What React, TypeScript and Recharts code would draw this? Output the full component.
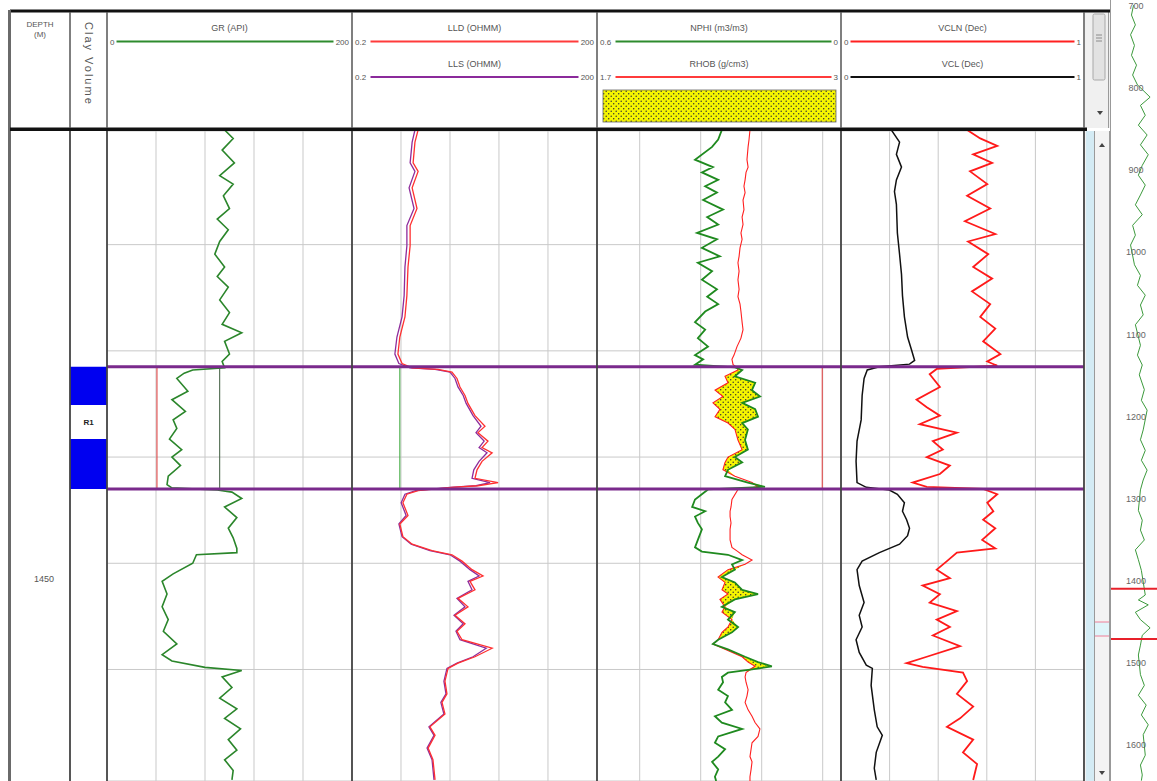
import React from 'react';
import {
  ComposedChart,
  Line,
  Area,
  XAxis,
  YAxis,
  CartesianGrid,
  ReferenceLine,
  ReferenceArea,
} from 'recharts';

// depth window of the main tracks (m)
const TOP_DEPTH = 1409.3;
const BASE_DEPTH = 1470.5;
const depthGrid = [1420, 1430, 1440, 1450, 1460];
const depthLabels = [1450];

// overview strip on the right
const OVERVIEW_TOP = 692.7;
const OVERVIEW_BASE = 1643.4;
const overviewLabels = [700, 800, 900, 1000, 1100, 1200, 1300, 1400, 1500, 1600];

const zones = [{ name: 'R1', top: 1431.5, base: 1443.0, labelTop: 1435.1, labelBase: 1438.3 }];

// grid ticks per track
const grGrid = [40, 80, 120, 160];
const lldGrid = [0.796, 3.17, 12.6, 50.2];
const nphiGrid = [0.495, 0.345, 0.195, 0.045];
const vclGrid = [0.2, 0.4, 0.6, 0.8];

// cutoffs drawn inside the zone
const grCutoffs = [40.8, 92];
const lldCutoffs = [0.77];
const rhobCutoffs = [2.9];

// [depth, GR API]
const grCurve = [
  [1409.2, 96], [1410.0, 103], [1411.1, 94], [1412.3, 104], [1413.5, 92], [1414.3, 103],
  [1415.4, 95], [1416.6, 100], [1417.6, 90], [1418.6, 99], [1419.7, 92], [1420.9, 88],
  [1422.1, 96], [1423.0, 90], [1424.0, 99], [1425.2, 92], [1426.4, 100], [1427.5, 94],
  [1428.3, 110], [1429.1, 96], [1430.3, 100], [1431.0, 94], [1431.6, 96], [1431.8, 70],
  [1432.1, 63], [1432.6, 57], [1433.8, 66], [1434.6, 53], [1435.7, 64], [1436.5, 54],
  [1437.3, 57], [1438.3, 51], [1439.3, 61], [1440.0, 53], [1440.8, 60], [1441.8, 50],
  [1442.6, 49], [1442.9, 53], [1443.1, 90], [1443.3, 102], [1443.9, 110], [1444.7, 96],
  [1445.7, 106], [1446.7, 99], [1447.6, 103], [1448.6, 106], [1449.0, 106], [1449.2, 73],
  [1450.0, 70], [1451.0, 54], [1451.7, 45], [1452.9, 49], [1454.1, 45], [1455.3, 50],
  [1456.4, 46], [1457.6, 57], [1458.6, 45], [1459.2, 53], [1459.8, 80], [1460.1, 110],
  [1460.7, 94], [1461.7, 102], [1462.7, 92], [1463.7, 106], [1464.6, 96], [1465.6, 109],
  [1466.6, 99], [1467.6, 106], [1468.5, 96], [1469.5, 103], [1470.4, 102],
];

// [depth, LLD, LLS] ohm.m
const resCurve = [
  [1409.2, 1.29, 1.18], [1410.35, 1.18, 1.09], [1412.3, 1.12, 1.03], [1413.1, 1.29, 1.18],
  [1414.65, 1.09, 1.0], [1416.6, 1.25, 1.15], [1418.2, 1.03, 0.94], [1420.1, 1.03, 0.94],
  [1422.1, 0.97, 0.89], [1424.8, 0.94, 0.87], [1426.8, 0.89, 0.82], [1428.7, 0.77, 0.71],
  [1430.3, 0.73, 0.67], [1431.2, 0.82, 0.75], [1431.6, 1.09, 1.03], [1431.75, 2.26, 2.08],
  [1432.0, 3.35, 3.17], [1432.6, 3.86, 3.65], [1433.4, 4.2, 3.97], [1434.2, 4.84, 4.6],
  [1434.95, 5.26, 5.0], [1436.1, 6.41, 6.07], [1437.1, 8.5, 7.6], [1437.7, 6.98, 6.6],
  [1438.5, 9.25, 8.3], [1439.1, 7.82, 7.2], [1439.6, 10.4, 9.0], [1440.4, 7.82, 7.2],
  [1441.2, 6.79, 6.2], [1442.0, 6.41, 5.9], [1442.4, 12.3, 9.8], [1442.7, 6.98, 6.6],
  [1442.85, 3.35, 3.17], [1443.15, 1.29, 1.2], [1443.5, 0.94, 0.89], [1444.3, 0.84, 0.8],
  [1445.5, 0.97, 0.92], [1446.3, 0.77, 0.75], [1447.5, 0.84, 0.82], [1448.2, 1.09, 1.06],
  [1448.8, 1.91, 1.8], [1449.2, 3.35, 3.17], [1449.8, 4.45, 4.2], [1450.6, 5.9, 5.57],
  [1451.2, 8.04, 7.2], [1451.7, 5.57, 5.26], [1452.5, 6.41, 5.9], [1453.3, 3.97, 3.86],
  [1454.1, 5.26, 4.84], [1454.9, 3.65, 3.55], [1455.7, 4.84, 4.6], [1456.4, 3.86, 3.75],
  [1457.2, 4.45, 4.2], [1458.0, 10.4, 8.8], [1458.8, 6.41, 6.07], [1459.4, 3.97, 3.86],
  [1459.9, 3.0, 2.91], [1461.1, 2.75, 2.67], [1462.3, 2.91, 2.83], [1463.1, 2.53, 2.45],
  [1464.2, 2.75, 2.67], [1465.4, 1.8, 1.75], [1466.2, 2.08, 2.02], [1467.4, 1.71, 1.66],
  [1468.5, 1.96, 1.91], [1470.4, 2.08, 2.02],
];

// [depth, NPHI m3/m3, RHOB g/cm3]
const ndCurve = [
  [1409.2, 0.293, 2.515], [1410.1, 0.302, 2.51], [1410.8, 0.317, 2.505], [1412.0, 0.359, 2.499],
  [1412.7, 0.315, 2.505], [1413.2, 0.342, 2.494], [1413.9, 0.302, 2.489], [1414.5, 0.334, 2.483],
  [1415.1, 0.305, 2.489], [1415.8, 0.339, 2.478], [1416.7, 0.29, 2.483], [1417.4, 0.329, 2.473],
  [1418.1, 0.302, 2.478], [1418.9, 0.354, 2.467], [1419.5, 0.305, 2.473], [1420.3, 0.342, 2.462],
  [1421.1, 0.298, 2.457], [1421.7, 0.352, 2.451], [1422.5, 0.317, 2.457], [1423.3, 0.342, 2.451],
  [1424.2, 0.305, 2.457], [1424.9, 0.329, 2.451], [1425.6, 0.302, 2.462], [1426.3, 0.334, 2.467],
  [1427.3, 0.359, 2.473], [1428.0, 0.334, 2.478], [1428.8, 0.352, 2.467], [1429.6, 0.327, 2.446],
  [1430.4, 0.359, 2.43], [1430.8, 0.339, 2.419], [1431.3, 0.359, 2.425], [1431.55, 0.261, 2.446],
  [1431.8, 0.243, 2.451], [1432.4, 0.261, 2.382], [1433.0, 0.211, 2.398], [1433.7, 0.219, 2.329],
  [1434.3, 0.199, 2.371], [1434.9, 0.243, 2.318], [1435.5, 0.211, 2.355], [1436.2, 0.204, 2.329],
  [1436.8, 0.243, 2.398], [1437.4, 0.229, 2.435], [1438.4, 0.236, 2.451], [1439.3, 0.229, 2.473],
  [1440.0, 0.261, 2.398], [1440.5, 0.243, 2.382], [1441.2, 0.278, 2.371], [1441.8, 0.285, 2.435],
  [1442.4, 0.229, 2.526], [1442.8, 0.187, 2.558], [1443.05, 0.327, 2.451], [1444.0, 0.359, 2.419],
  [1444.7, 0.366, 2.414], [1445.1, 0.334, 2.409], [1445.6, 0.359, 2.409], [1446.2, 0.352, 2.414],
  [1446.8, 0.342, 2.409], [1447.8, 0.352, 2.409], [1448.5, 0.359, 2.419], [1448.9, 0.342, 2.451],
  [1449.2, 0.278, 2.473], [1449.7, 0.243, 2.526], [1450.1, 0.268, 2.489], [1450.6, 0.261, 2.398],
  [1451.3, 0.293, 2.345], [1451.8, 0.261, 2.382], [1452.5, 0.243, 2.366], [1452.9, 0.204, 2.398],
  [1453.4, 0.261, 2.355], [1454.1, 0.293, 2.382], [1454.6, 0.261, 2.366], [1455.3, 0.278, 2.419],
  [1456.0, 0.253, 2.398], [1456.5, 0.268, 2.366], [1457.2, 0.302, 2.345], [1457.6, 0.315, 2.318],
  [1458.1, 0.278, 2.382], [1458.8, 0.236, 2.473], [1459.3, 0.204, 2.505], [1459.7, 0.17, 2.542],
  [1460.0, 0.219, 2.515], [1460.3, 0.278, 2.494], [1460.7, 0.293, 2.489], [1461.2, 0.29, 2.494],
  [1461.9, 0.302, 2.505], [1462.5, 0.278, 2.499], [1463.1, 0.285, 2.489], [1463.8, 0.268, 2.505],
  [1464.4, 0.31, 2.526], [1465.0, 0.293, 2.542], [1465.6, 0.243, 2.568], [1466.3, 0.302, 2.558],
  [1466.9, 0.31, 2.526], [1467.5, 0.285, 2.521], [1468.2, 0.302, 2.515], [1468.7, 0.317, 2.526],
  [1469.4, 0.302, 2.521], [1470.1, 0.31, 2.515], [1470.5, 0.307, 2.515],
];

// [depth, VCL]
const vclCurve = [
  [1409.2, 0.207], [1410.35, 0.241], [1411.5, 0.228], [1412.7, 0.249], [1413.9, 0.228],
  [1415.0, 0.22], [1416.2, 0.228], [1418.9, 0.232], [1420.9, 0.241], [1422.8, 0.249],
  [1424.8, 0.253], [1426.8, 0.261], [1428.7, 0.274], [1429.9, 0.29], [1430.9, 0.303],
  [1431.25, 0.282], [1431.5, 0.158], [1431.8, 0.108], [1432.6, 0.095], [1434.2, 0.087],
  [1436.5, 0.083], [1438.5, 0.066], [1440.4, 0.062], [1442.4, 0.066], [1442.85, 0.104],
  [1443.1, 0.199], [1443.5, 0.232], [1444.3, 0.261], [1445.1, 0.253], [1445.9, 0.27],
  [1446.7, 0.282], [1447.4, 0.274], [1448.2, 0.241], [1449.0, 0.158], [1449.8, 0.087],
  [1450.6, 0.066], [1452.1, 0.075], [1453.7, 0.095], [1454.9, 0.075], [1456.0, 0.087],
  [1457.2, 0.062], [1458.4, 0.075], [1459.6, 0.104], [1459.9, 0.129], [1461.5, 0.124],
  [1463.8, 0.137], [1465.4, 0.149], [1466.2, 0.17], [1467.8, 0.145], [1469.3, 0.137],
  [1470.4, 0.145],
];

// [depth, VCLN]
const vclnCurve = [
  [1409.2, 0.519], [1410.0, 0.573], [1410.7, 0.643], [1411.5, 0.544], [1412.3, 0.622],
  [1413.1, 0.531], [1414.3, 0.602], [1415.4, 0.519], [1416.6, 0.614], [1417.8, 0.51],
  [1419.0, 0.635], [1419.7, 0.523], [1420.9, 0.606], [1422.1, 0.544], [1423.2, 0.622],
  [1424.4, 0.539], [1425.6, 0.614], [1426.8, 0.573], [1427.9, 0.635], [1429.1, 0.585],
  [1430.3, 0.656], [1431.0, 0.602], [1431.4, 0.643], [1431.7, 0.394], [1432.2, 0.365],
  [1433.4, 0.407], [1434.6, 0.311], [1435.3, 0.353], [1436.1, 0.407], [1436.9, 0.324],
  [1437.7, 0.477], [1438.5, 0.378], [1439.3, 0.419], [1440.0, 0.353], [1440.8, 0.448],
  [1441.6, 0.407], [1442.4, 0.295], [1442.8, 0.353], [1443.0, 0.585], [1443.5, 0.643],
  [1444.3, 0.602], [1445.1, 0.627], [1445.9, 0.585], [1446.7, 0.635], [1447.8, 0.581],
  [1448.6, 0.635], [1449.0, 0.477], [1449.8, 0.436], [1450.6, 0.394], [1451.4, 0.448],
  [1452.1, 0.336], [1452.9, 0.407], [1453.7, 0.365], [1454.5, 0.477], [1455.3, 0.394],
  [1456.0, 0.448], [1456.8, 0.378], [1457.8, 0.49], [1458.8, 0.353], [1459.4, 0.27],
  [1459.75, 0.336], [1460.3, 0.502], [1461.1, 0.519], [1462.3, 0.477], [1463.5, 0.544],
  [1464.6, 0.49], [1465.4, 0.436], [1466.6, 0.544], [1467.8, 0.502], [1468.9, 0.56],
  [1470.4, 0.544],
];

// [depth, GR] of the overview strip
const overviewCurve = [
  [699, 98], [711, 89], [723, 106], [735, 85], [748, 102], [760, 89], [772, 111], [784, 94],
  [796, 115], [811, 170], [821, 128], [833, 149], [845, 119], [857, 157], [869, 128], [881, 162],
  [894, 136], [906, 119], [918, 149], [930, 128], [942, 106], [954, 136], [967, 94], [979, 106],
  [991, 85], [1015, 102], [1028, 128], [1040, 115], [1052, 149], [1064, 128], [1076, 140],
  [1088, 106], [1113, 128], [1125, 115], [1137, 136], [1149, 123], [1167, 145], [1180, 132],
  [1192, 157], [1216, 140], [1228, 128], [1241, 149], [1253, 132], [1265, 157], [1277, 140],
  [1289, 128], [1314, 119], [1326, 136], [1338, 128], [1350, 145], [1362, 106], [1374, 119],
  [1387, 132], [1417, 149], [1423, 119], [1429, 162], [1438, 106], [1447, 128], [1457, 170],
  [1466, 136], [1478, 128], [1490, 119], [1514, 128], [1527, 145], [1539, 119], [1551, 153],
  [1563, 132], [1575, 162], [1587, 140], [1612, 149], [1624, 128], [1636, 136], [1643, 132],
];

const NPHI_LEFT = 0.6;
const NPHI_RIGHT = 0;
const RHOB_LEFT = 1.7;
const RHOB_RIGHT = 3;

const grRows = grCurve.map(([depth, gr]) => ({ depth, gr }));
const resRows = resCurve.map(([depth, lld, lls]) => ({ depth, lld, lls }));
const vclRows = vclCurve.map(([depth, vcl]) => ({ depth, vcl }));
const vclnRows = vclnCurve.map(([depth, vcln]) => ({ depth, vcln }));
const overviewRows = overviewCurve.map(([depth, gr]) => ({ depth, gr }));
// density-neutron crossover: shaded where RHOB plots left of NPHI
const ndRows = ndCurve.map(([depth, nphi, rhob]) => {
  const nf = (nphi - NPHI_LEFT) / (NPHI_RIGHT - NPHI_LEFT);
  const rf = (rhob - RHOB_LEFT) / (RHOB_RIGHT - RHOB_LEFT);
  return { depth, nphi, rhob, sand: [rf, Math.max(rf, nf)] };
});
const depthExtent = [{ depth: TOP_DEPTH, x: 0 }, { depth: BASE_DEPTH, x: 1 }];

const FONT = "'Liberation Sans', Arial, sans-serif";
const M = { top: 0, right: 0, bottom: 0, left: 0 };
const BODY_TOP = 131;
const BODY_H = 650;
const GRID = '#c9c9c9';
const ZONE = '#7a2a8c';

const depthAxis = (ticks: number[]) => (
  <YAxis
    type="number"
    dataKey="depth"
    domain={[TOP_DEPTH, BASE_DEPTH]}
    ticks={ticks}
    interval={0}
    allowDataOverflow
    hide
  />
);

const zoneLines = () =>
  zones
    .flatMap((z) => [z.top, z.base])
    .map((d, i) => <ReferenceLine key={'zone' + i} y={d} stroke={ZONE} strokeWidth={3} />);

const cutoffLines = (values: number[], colors: string[], axisId?: string) =>
  zones.flatMap((z) =>
    values.map((v, i) => (
      <ReferenceLine
        key={z.name + 'cut' + i}
        xAxisId={axisId ?? 0}
        segment={[{ x: v, y: z.top }, { x: v, y: z.base }]}
        stroke={colors[i]}
        strokeWidth={1}
      />
    ))
  );

const renderDepthTick = (p: any) => (
  <text x={34} y={p.y + 19} textAnchor="middle" fontSize={9} fill="#555" fontFamily={FONT}>
    {p.payload.value}
  </text>
);

const renderOverviewTick = (p: any) => (
  <text x={25} y={p.y + 3} textAnchor="middle" fontSize={9} fill="#666" fontFamily={FONT}>
    {p.payload.value}
  </text>
);

const HeaderCurve = ({ x0, x1, row, title, lo, hi, color }: any) => {
  const cx = (x0 + x1) / 2;
  const ty = row === 0 ? 31 : 67;
  const ly = row === 0 ? 41.5 : 77;
  return (
    <g>
      <text x={cx} y={ty} textAnchor="middle" fontSize={9} fill="#555">{title}</text>
      <line
        x1={x0 + 5 + lo.length * 4.5}
        x2={x1 - 5 - hi.length * 4.5}
        y1={ly}
        y2={ly}
        stroke={color}
        strokeWidth={2}
      />
      <text x={x0 + 3} y={ly + 3} fontSize={8} fill="#555">{lo}</text>
      <text x={x1 - 3} y={ly + 3} fontSize={8} fill="#555" textAnchor="end">{hi}</text>
    </g>
  );
};

const Frame = () => {
  const dividers = [70, 107, 352, 597, 841, 1084];
  return (
    <svg
      width={1157}
      height={781}
      style={{ position: 'absolute', left: 0, top: 0, pointerEvents: 'none' }}
      fontFamily={FONT}
    >
      <defs>
        <pattern id="hdrSand" width={5} height={5} patternUnits="userSpaceOnUse">
          <rect width={5} height={5} fill="#f5f500" />
          <circle cx={1.2} cy={1.2} r={0.75} fill="#333" />
          <circle cx={3.7} cy={3.7} r={0.75} fill="#333" />
        </pattern>
      </defs>

      {/* header scrollbar */}
      <rect x={1085} y={12} width={25} height={116} fill="#f0f0f0" />
      <line x1={1108.5} x2={1108.5} y1={12} y2={128} stroke="#9a9a9a" />
      <rect x={1093} y={14} width={12} height={66} rx={1.5} fill="#e2e2e2" stroke="#a8a8a8" />
      {[35, 38, 41].map((y) => (
        <line key={y} x1={1096} x2={1102} y1={y} y2={y} stroke="#777" strokeWidth={0.8} />
      ))}
      <polygon points="1097,111 1103,111 1100,115" fill="#444" />

      {/* body scrollbar */}
      <rect x={1085} y={131} width={25} height={650} fill="#f3f3f3" />
      <rect x={1086} y={131} width={8} height={650} fill="#d4ebf4" />
      <line x1={1094.5} x2={1094.5} y1={131} y2={781} stroke="#9a9a9a" />
      <line x1={1109.5} x2={1109.5} y1={131} y2={781} stroke="#9a9a9a" />
      <polygon points="1099,147 1105,147 1102,143" fill="#444" />
      <polygon points="1099,771 1105,771 1102,775" fill="#444" />
      <rect x={1095} y={622} width={14} height={14} fill="#dff5fa" />
      <line x1={1095} x2={1109} y1={622} y2={622} stroke="#f06080" strokeWidth={0.8} />
      <line x1={1095} x2={1109} y1={636} y2={636} stroke="#f06080" strokeWidth={0.8} />

      {/* frame */}
      <rect x={10} y={9.5} width={1100} height={3} fill="#111" />
      <rect x={8} y={10} width={3} height={771} fill="#6a6a6a" />
      <rect x={10} y={127.5} width={1077} height={3.5} fill="#111" />
      {dividers.map((x) => (
        <line key={'h' + x} x1={x} x2={x} y1={12} y2={128} stroke="#555" strokeWidth={1.5} />
      ))}
      {dividers.map((x) => (
        <line key={'b' + x} x1={x} x2={x} y1={131} y2={781} stroke="#444" strokeWidth={1.8} />
      ))}

      {/* header texts */}
      <text x={40} y={27} textAnchor="middle" fontSize={8} fill="#555">DEPTH</text>
      <text x={40} y={37} textAnchor="middle" fontSize={8} fill="#555">(M)</text>
      <text x={85} y={22} fontSize={11} fill="#555" letterSpacing={2} transform="rotate(90 85 22)">
        Clay Volume
      </text>

      <HeaderCurve x0={107} x1={352} row={0} title="GR (API)" lo="0" hi="200" color="#2e8b2e" />
      <HeaderCurve x0={352} x1={597} row={0} title="LLD (OHMM)" lo="0.2" hi="200" color="#ff3b3b" />
      <HeaderCurve x0={352} x1={597} row={1} title="LLS (OHMM)" lo="0.2" hi="200" color="#8b2a9b" />
      <HeaderCurve x0={597} x1={841} row={0} title="NPHI (m3/m3)" lo="0.6" hi="0" color="#2e8b2e" />
      <HeaderCurve x0={597} x1={841} row={1} title="RHOB (g/cm3)" lo="1.7" hi="3" color="#ff3b3b" />
      <HeaderCurve x0={841} x1={1084} row={0} title="VCLN (Dec)" lo="0" hi="1" color="#ff2020" />
      <HeaderCurve x0={841} x1={1084} row={1} title="VCL (Dec)" lo="0" hi="1" color="#111" />
      <rect x={603} y={90} width={233} height={32} fill="url(#hdrSand)" stroke="#666" strokeWidth={0.8} />

      <line x1={1110.5} x2={1110.5} y1={0} y2={781} stroke="#999" />
    </svg>
  );
};

export default function App() {
  return (
    <div
      style={{
        position: 'absolute',
        left: 0,
        top: 0,
        width: 1157,
        height: 781,
        background: '#fff',
        overflow: 'hidden',
        fontFamily: FONT,
      }}
    >
      {/* depth */}
      <div style={{ position: 'absolute', left: 10, top: BODY_TOP }}>
        <ComposedChart width={60} height={BODY_H} layout="vertical" margin={M} data={depthExtent}>
          <XAxis type="number" dataKey="x" domain={[0, 1]} hide allowDataOverflow />
          <YAxis
            type="number"
            dataKey="depth"
            domain={[TOP_DEPTH, BASE_DEPTH]}
            ticks={depthLabels}
            interval={0}
            allowDataOverflow
            mirror
            axisLine={false}
            tickLine={false}
            tick={renderDepthTick}
          />
        </ComposedChart>
      </div>

      {/* clay volume */}
      <div style={{ position: 'absolute', left: 70, top: BODY_TOP }}>
        <ComposedChart width={37} height={BODY_H} layout="vertical" margin={M} data={depthExtent}>
          <XAxis type="number" dataKey="x" domain={[0, 1]} hide allowDataOverflow />
          {depthAxis([])}
          {zones.map((z) => (
            <ReferenceArea
              key={z.name}
              x1={0}
              x2={1}
              y1={z.top}
              y2={z.base}
              fill="#0000f0"
              fillOpacity={1}
              stroke="none"
              ifOverflow="extendDomain"
            />
          ))}
          {zones.map((z) => (
            <ReferenceArea
              key={z.name + 'label'}
              x1={0}
              x2={1}
              y1={z.labelTop}
              y2={z.labelBase}
              fill="#fff"
              fillOpacity={1}
              stroke="none"
              ifOverflow="extendDomain"
              label={{ value: z.name, position: 'center', fill: '#222', fontSize: 8, fontWeight: 700 }}
            />
          ))}
        </ComposedChart>
      </div>

      {/* GR */}
      <div style={{ position: 'absolute', left: 107, top: BODY_TOP }}>
        <ComposedChart width={245} height={BODY_H} layout="vertical" margin={M}>
          <XAxis type="number" domain={[0, 200]} ticks={grGrid} interval={0} hide allowDataOverflow />
          {depthAxis(depthGrid)}
          <CartesianGrid stroke={GRID} />
          {cutoffLines(grCutoffs, ['#e03a3a', '#3d5a3d'])}
          <Line data={grRows} dataKey="gr" stroke="#2b862b" strokeWidth={1.6} dot={false} isAnimationActive={false} />
          {zoneLines()}
        </ComposedChart>
      </div>

      {/* LLD / LLS */}
      <div style={{ position: 'absolute', left: 352, top: BODY_TOP }}>
        <ComposedChart width={245} height={BODY_H} layout="vertical" margin={M}>
          <XAxis type="number" scale="log" domain={[0.2, 200]} ticks={lldGrid} interval={0} hide allowDataOverflow />
          {depthAxis(depthGrid)}
          <CartesianGrid stroke={GRID} />
          {cutoffLines(lldCutoffs, ['#3aa83a'])}
          <Line data={resRows} dataKey="lls" stroke="#8e2c9c" strokeWidth={1.3} dot={false} isAnimationActive={false} />
          <Line data={resRows} dataKey="lld" stroke="#ff3030" strokeWidth={1.3} dot={false} isAnimationActive={false} />
          {zoneLines()}
        </ComposedChart>
      </div>

      {/* NPHI / RHOB */}
      <div style={{ position: 'absolute', left: 597, top: BODY_TOP }}>
        <ComposedChart width={244} height={BODY_H} layout="vertical" margin={M}>
          <defs>
            <pattern id="sandFill" width={5} height={5} patternUnits="userSpaceOnUse">
              <rect width={5} height={5} fill="#f5f500" />
              <circle cx={1.2} cy={1.2} r={0.75} fill="#333" />
              <circle cx={3.7} cy={3.7} r={0.75} fill="#333" />
            </pattern>
          </defs>
          <XAxis type="number" domain={[0, 1]} hide allowDataOverflow />
          <XAxis xAxisId="nphi" type="number" domain={[NPHI_RIGHT, NPHI_LEFT]} reversed ticks={nphiGrid} interval={0} hide allowDataOverflow />
          <XAxis xAxisId="rhob" type="number" domain={[RHOB_LEFT, RHOB_RIGHT]} hide allowDataOverflow />
          {depthAxis(depthGrid)}
          <CartesianGrid xAxisId="nphi" stroke={GRID} />
          {cutoffLines(rhobCutoffs, ['#e03a3a'], 'rhob')}
          <Area data={ndRows} dataKey="sand" type="linear" fill="url(#sandFill)" fillOpacity={1} stroke="none" isAnimationActive={false} />
          <Line data={ndRows} xAxisId="rhob" dataKey="rhob" stroke="#ff2020" strokeWidth={1.1} dot={false} isAnimationActive={false} />
          <Line data={ndRows} xAxisId="nphi" dataKey="nphi" stroke="#1f8a1f" strokeWidth={1.8} dot={false} isAnimationActive={false} />
          {zoneLines()}
        </ComposedChart>
      </div>

      {/* VCL / VCLN */}
      <div style={{ position: 'absolute', left: 841, top: BODY_TOP }}>
        <ComposedChart width={243} height={BODY_H} layout="vertical" margin={M}>
          <XAxis type="number" domain={[0, 1]} ticks={vclGrid} interval={0} hide allowDataOverflow />
          {depthAxis(depthGrid)}
          <CartesianGrid stroke={GRID} />
          <Line data={vclnRows} dataKey="vcln" stroke="#ff1a1a" strokeWidth={1.8} dot={false} isAnimationActive={false} />
          <Line data={vclRows} dataKey="vcl" stroke="#111" strokeWidth={1.5} dot={false} isAnimationActive={false} />
          {zoneLines()}
        </ComposedChart>
      </div>

      {/* overview */}
      <div style={{ position: 'absolute', left: 1111, top: 0 }}>
        <ComposedChart width={46} height={781} layout="vertical" margin={M}>
          <XAxis type="number" domain={[0, 200]} hide allowDataOverflow />
          <YAxis
            type="number"
            dataKey="depth"
            domain={[OVERVIEW_TOP, OVERVIEW_BASE]}
            ticks={overviewLabels}
            interval={0}
            allowDataOverflow
            mirror
            axisLine={false}
            tickLine={false}
            tick={renderOverviewTick}
          />
          <Line data={overviewRows} dataKey="gr" stroke="#3c9a3c" strokeWidth={1} dot={false} isAnimationActive={false} />
          <ReferenceLine y={TOP_DEPTH} stroke="#e8202a" strokeWidth={2} />
          <ReferenceLine y={BASE_DEPTH} stroke="#e8202a" strokeWidth={2} />
        </ComposedChart>
      </div>

      <Frame />
    </div>
  );
}
